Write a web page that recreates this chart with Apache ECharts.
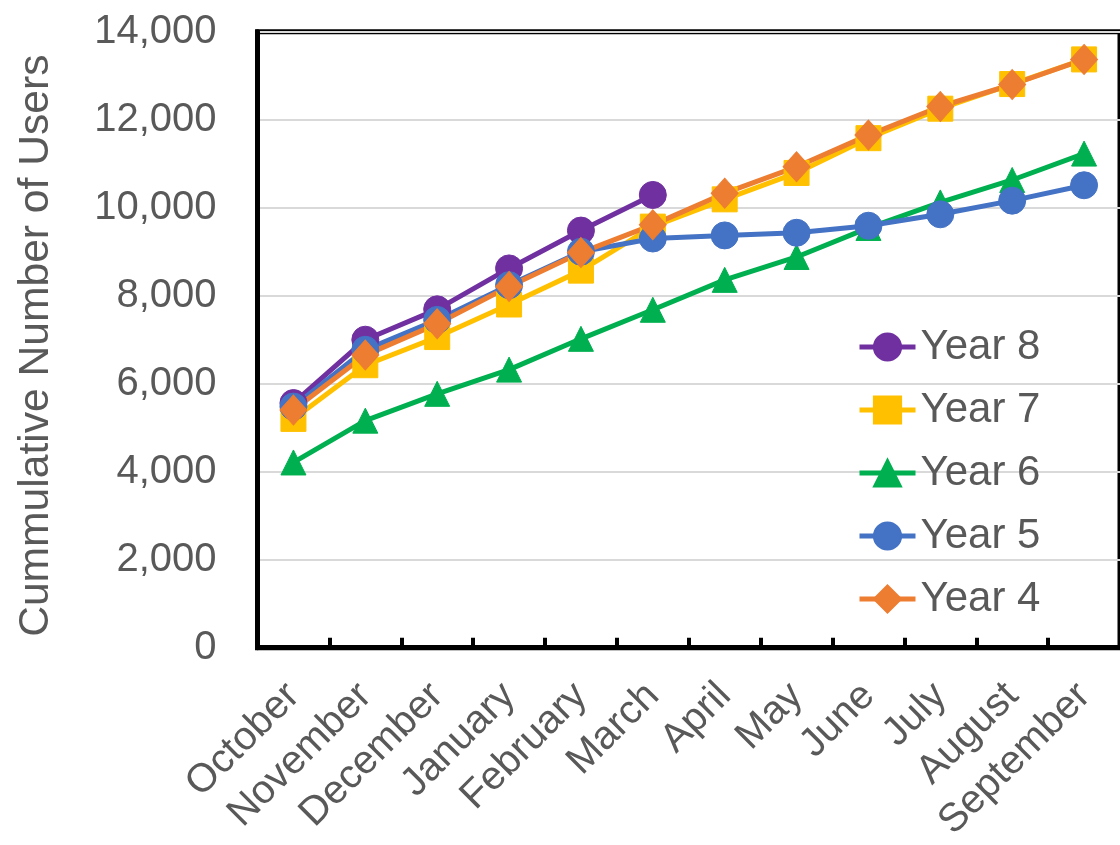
<!DOCTYPE html>
<html>
<head>
<meta charset="utf-8">
<title>Cummulative Number of Users</title>
<script src="https://cdn.jsdelivr.net/npm/echarts@6/dist/echarts.min.js"></script>
<style>
  html, body { margin: 0; padding: 0; background: #ffffff; }
  #chart { width: 1120px; height: 845px; }
</style>
</head>
<body>
<div id="chart"></div>
<script>
// Months of the service year (October through September)
const months = ['October', 'November', 'December', 'January', 'February', 'March',
  'April', 'May', 'June', 'July', 'August', 'September'];

// Cumulative users per month for each year
const year8 = [5560, 7000, 7690, 8620, 9480, 10290];
const year7 = [5200, 6420, 7060, 7800, 8570, 9570, 10190, 10790, 11580, 12250, 12810, 13370];
const year6 = [4210, 5160, 5770, 6320, 7020, 7680, 8360, 8880, 9540, 10120, 10630, 11230];
const year5 = [5480, 6770, 7450, 8240, 9000, 9300, 9370, 9430, 9590, 9850, 10160, 10510];
const year4 = [5400, 6650, 7360, 8210, 8980, 9610, 10330, 10930, 11650, 12300, 12800, 13370];

const yTicks = { min: 0, max: 14000, interval: 2000 };

const FONT = '"Liberation Sans", Arial, sans-serif';
const TEXT = '#595959';

function makeSeries(name, data, color, symbol, size) {
  return {
    name: name,
    type: 'line',
    data: data,
    symbol: symbol,
    symbolSize: size,
    showAllSymbol: true,
    lineStyle: { color: color, width: 5 },
    itemStyle: { color: color, borderColor: color, borderWidth: 1 },
    emphasis: { disabled: true },
    animation: false
  };
}

const chart = echarts.init(document.getElementById('chart'), null, { renderer: 'canvas' });

chart.setOption({
  backgroundColor: '#ffffff',
  textStyle: { fontFamily: FONT },
  grid: {
    left: 257.5, right: -2, top: 31.7, bottom: 197.3,
    show: true, borderColor: '#000000', borderWidth: 5, backgroundColor: 'transparent'
  },
  legend: {
    orient: 'vertical',
    left: 857,
    top: 326,
    padding: 0,
    itemWidth: 56,
    itemHeight: 34,
    itemGap: 21,
    lineStyle: { width: 5 },
    textStyle: { fontFamily: FONT, fontSize: 42, color: TEXT },
    data: ['Year 8', 'Year 7', 'Year 6', 'Year 5', 'Year 4']
  },
  xAxis: {
    type: 'category',
    data: months,
    boundaryGap: true,
    axisLine: { show: true, lineStyle: { color: '#000000', width: 5 } },
    axisTick: { show: true, inside: true, length: 10, alignWithLabel: false,
      lineStyle: { color: '#000000', width: 4 } },
    axisLabel: { interval: 0, rotate: 45, margin: 42, fontFamily: FONT, fontSize: 40, color: TEXT },
    splitLine: { show: false }
  },
  yAxis: {
    type: 'value',
    min: yTicks.min,
    max: yTicks.max,
    interval: yTicks.interval,
    name: 'Cummulative Number of Users',
    nameLocation: 'middle',
    nameGap: 200,
    nameRotate: 90,
    nameTextStyle: { fontFamily: FONT, fontSize: 42.6, color: TEXT, padding: [0, 12, 0, 0] },
    axisLine: { show: true, lineStyle: { color: '#000000', width: 5 } },
    axisTick: { show: false },
    axisLabel: {
      margin: 41, fontFamily: FONT, fontSize: 40, color: TEXT,
      formatter: v => v.toLocaleString('en-US')
    },
    splitLine: { show: true, lineStyle: { color: '#d9d9d9', width: 2 } }
  },
  series: [
    makeSeries('Year 8', year8, '#7030A0', 'circle', 27),
    makeSeries('Year 7', year7, '#FFC000', 'rect', 25),
    makeSeries('Year 6', year6, '#00B050', 'triangle', 25),
    makeSeries('Year 5', year5, '#4472C4', 'circle', 27),
    makeSeries('Year 4', year4, '#ED7D31', 'diamond', [27, 30])
  ]
});
</script>
</body>
</html>
